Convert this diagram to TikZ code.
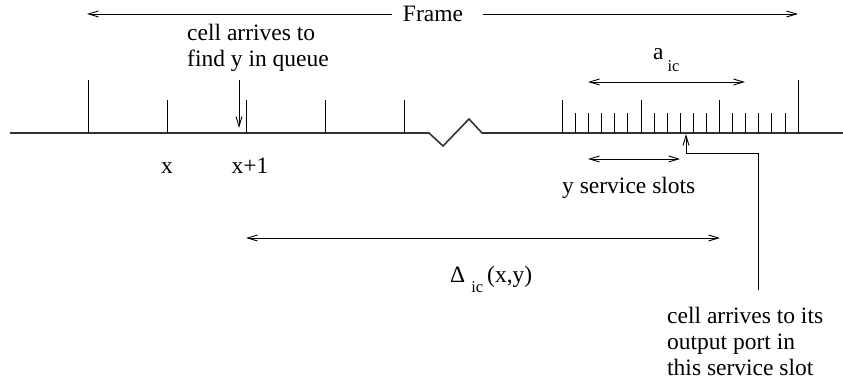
\documentclass[tikz,border=0pt]{standalone}
\usepackage{fontspec}
\setmainfont{Liberation Serif}
\usetikzlibrary{arrows.meta}
\tikzset{
  txt/.style={inner sep=0pt, font=\fontsize{23.5}{26}\selectfont},
  arr/.style={line width=0.9pt, -{Straight Barb[length=10pt,width=6pt]}},
  darr/.style={line width=0.9pt, {Straight Barb[length=10pt,width=6pt]}-{Straight Barb[length=10pt,width=6pt]}},
  axis/.style={line width=1.6pt, black!80},
  tick/.style={line width=1.1pt, black},
  lead/.style={line width=0.9pt}
}
\newcommand{\subsz}{\fontsize{16.5}{17}\selectfont}
\begin{document}
\begin{tikzpicture}[x=1pt,y=-1pt]
\useasboundingbox (0,0) rectangle (843,385);
% axis with zigzag break
\coordinate (a0) at (10,133);
\coordinate (z1) at (429,133);
\coordinate (z2) at (443,146);
\coordinate (z3) at (469,119);
\coordinate (z4) at (482,133);
\coordinate (a1) at (843,133);
\draw[axis, line join=miter] (a0) -- (z1) -- (z2) -- (z3) -- (z4) -- (a1);
% left ticks
\draw[tick] (88.5,80) -- (88.5,133);
\foreach \x in {167.5,246.5,325.5,404.5} \draw[tick] (\x,100) -- (\x,133);
% right ticks
\foreach \x in {562.5,641.5,719.5} \draw[tick] (\x,100) -- (\x,133);
\foreach \x in {575.5,588.5,601.5,614.5,627.5,654.5,667.5,680.5,693.5,706.5,732.5,745.5,758.5,771.5,785.5}
  \draw[tick] (\x,113) -- (\x,133);
\draw[tick] (798.5,80) -- (798.5,133);
% Frame
\node[txt] (frame) at (433,14) {Frame};
\coordinate (fl) at (87,14);
\coordinate (fr) at (798,14);
\draw[arr] ([xshift=-11pt]frame.west) -- (fl);
\draw[arr] ([xshift=20pt]frame.east) -- (fr);
% cell arrives to find y in queue
\node[txt, anchor=base west, align=left] (find) at (187,66.7) {cell arrives to\\find y in queue};
\coordinate (d0) at (239,80);
\coordinate (d1) at (239,128);
\draw[arr] (d0) -- (d1);
% x labels
\node[txt, anchor=base] (lx) at (167,173) {x};
\node[txt, anchor=base] (lx1) at (250,173) {x+1};
% a_ic
\node[txt, anchor=base west] (aic) at (653,60) {a\hspace{4pt}\raisebox{-12pt}{\subsz ic}};
\coordinate (al) at (588,82);
\coordinate (ar) at (745,82);
\draw[darr] (al) -- (ar);
% y service slots
\coordinate (yl) at (588,159);
\coordinate (yr) at (680,159);
\draw[darr] (yl) -- (yr);
\node[txt, anchor=base west] (yss) at (562,193) {y service slots};
% Delta
\coordinate (dl) at (246,238);
\coordinate (dr) at (720,238);
\draw[darr] (dl) -- (dr);
\node[txt, anchor=base west] (delta) at (450,282) {Δ\hspace{6pt}\raisebox{-10pt}{\subsz ic}\hspace{4pt}(x,y)};
% leader to service slot
\node[txt, anchor=base west, align=left] (port) at (667,375) {cell arrives to its\\output port in\\this service slot};
\coordinate (p0) at (758,290);
\coordinate (p1) at (758,153);
\coordinate (p2) at (686,153);
\coordinate (p3) at (686,134);
\draw[lead] (p0) -- (p1) -- (p2);
\draw[arr] (p2) -- (p3);
\end{tikzpicture}
\end{document}
